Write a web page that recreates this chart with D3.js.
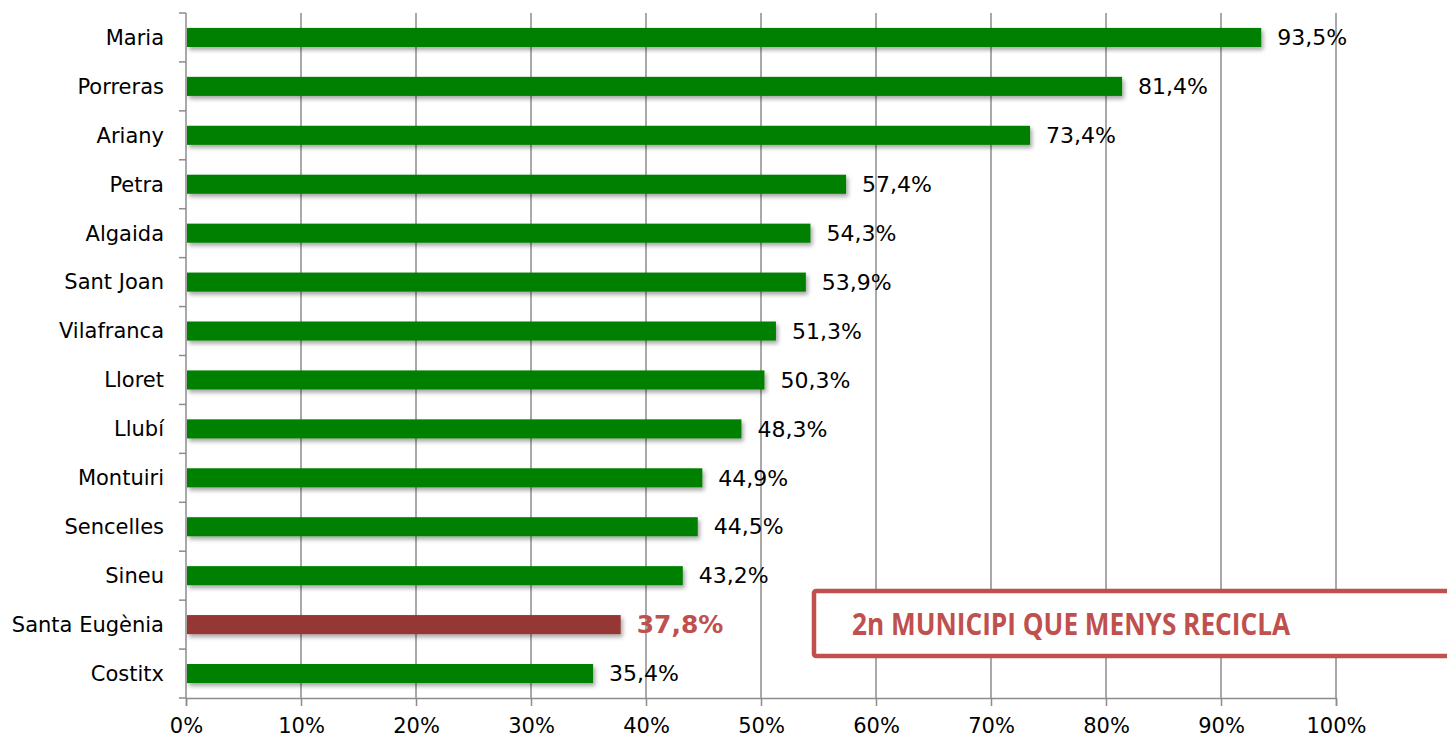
<!DOCTYPE html>
<html>
<head>
<meta charset="utf-8">
<script src="https://cdn.jsdelivr.net/npm/d3@7"></script>
<style>
  body { margin: 0; background: #fff; }
  text { font-family: "DejaVu Sans", sans-serif; }
</style>
</head>
<body>
<script>
const WIDTH = 1447
const HEIGHT = 741

const municipis = ['Maria', 'Porreras', 'Ariany', 'Petra', 'Algaida', 'Sant Joan', 'Vilafranca',
  'Lloret', 'Llubí', 'Montuiri', 'Sencelles', 'Sineu', 'Santa Eugènia', 'Costitx']
const reciclatge = [93.5, 81.4, 73.4, 57.4, 54.3, 53.9, 51.3, 50.3, 48.3, 44.9, 44.5, 43.2, 37.8, 35.4]
const destacat = 'Santa Eugènia'
const xTicks = [0, 10, 20, 30, 40, 50, 60, 70, 80, 90, 100]
const nota = '2n MUNICIPI QUE MENYS RECICLA'

const margin = { top: 13, right: 111, bottom: 43, left: 186 }
const innerW = WIDTH - margin.left - margin.right
const innerH = HEIGHT - margin.top - margin.bottom

const fmt = v => v.toFixed(1).replace('.', ',') + '%'

const svg = d3.select('body').append('svg')
  .attr('width', WIDTH)
  .attr('height', HEIGHT)

const defs = svg.append('defs')
defs.append('filter')
  .attr('id', 'shadow')
  .attr('x', '-5%').attr('y', '-50%')
  .attr('width', '110%').attr('height', '200%')
  .append('feDropShadow')
  .attr('dx', 2).attr('dy', 3)
  .attr('stdDeviation', 2)
  .attr('flood-color', '#000')
  .attr('flood-opacity', 0.35)

const g = svg.append('g')
  .attr('transform', `translate(${margin.left},${margin.top})`)

const x = d3.scaleLinear().domain([0, 100]).range([0, innerW])
const y = d3.scaleBand().domain(municipis).range([0, innerH]).paddingInner(0.61).paddingOuter(0.305)

// gridlines
g.append('g')
  .selectAll('line')
  .data(xTicks.slice(1))
  .enter()
  .append('line')
  .attr('x1', d => x(d)).attr('x2', d => x(d))
  .attr('y1', 0).attr('y2', innerH)
  .attr('stroke', '#8c8c8c')
  .attr('stroke-width', 1.5)

// x axis
const xAxis = g.append('g')
  .attr('transform', `translate(0,${innerH})`)
  .call(d3.axisBottom(x).tickValues(xTicks).tickFormat(d => d + '%').tickSize(8).tickPadding(12))
xAxis.select('.domain').attr('stroke', '#8c8c8c').attr('stroke-width', 1.5)
xAxis.selectAll('.tick line').attr('stroke', '#8c8c8c').attr('stroke-width', 1.5)
xAxis.selectAll('.tick text').attr('font-size', 21).attr('fill', '#000')
  .style('font-family', '"DejaVu Sans", sans-serif')

// y axis: line with ticks at category boundaries
const step = innerH / municipis.length
const yAxis = g.append('g')
yAxis.append('line')
  .attr('x1', 0).attr('x2', 0).attr('y1', 0).attr('y2', innerH)
  .attr('stroke', '#8c8c8c').attr('stroke-width', 1.5)
yAxis.selectAll('.bound')
  .data(d3.range(municipis.length + 1))
  .enter()
  .append('line')
  .attr('x1', -7).attr('x2', 0)
  .attr('y1', i => i * step).attr('y2', i => i * step)
  .attr('stroke', '#8c8c8c').attr('stroke-width', 1.5)
yAxis.selectAll('.cat')
  .data(municipis)
  .enter()
  .append('text')
  .attr('x', -22)
  .attr('y', d => y(d) + y.bandwidth() / 2)
  .attr('dy', '0.35em')
  .attr('text-anchor', 'end')
  .attr('font-size', 21)
  .attr('fill', '#000')
  .text(d => d)

const rows = municipis.map((m, i) => ({ name: m, value: reciclatge[i] }))

// bars
g.append('g')
  .selectAll('rect')
  .data(rows)
  .enter()
  .append('rect')
  .attr('x', 1)
  .attr('y', d => y(d.name))
  .attr('width', d => x(d.value) - 1)
  .attr('height', y.bandwidth())
  .attr('fill', d => d.name === destacat ? '#953735' : '#008000')
  .attr('filter', 'url(#shadow)')

// value labels
g.append('g')
  .selectAll('text')
  .data(rows)
  .enter()
  .append('text')
  .attr('x', d => x(d.value) + 16)
  .attr('y', d => y(d.name) + y.bandwidth() / 2)
  .attr('dy', '0.35em')
  .attr('font-size', d => d.name === destacat ? 25 : 22)
  .attr('font-weight', d => d.name === destacat ? 'bold' : 'normal')
  .attr('fill', d => d.name === destacat ? '#c0504d' : '#000')
  .text(d => fmt(d.value))

// callout box
svg.append('rect')
  .attr('x', 814)
  .attr('y', 591)
  .attr('width', 660)
  .attr('height', 65)
  .attr('rx', 2)
  .attr('fill', '#fff')
  .attr('stroke', '#c0504d')
  .attr('stroke-width', 4.5)
svg.append('text')
  .attr('x', 1071)
  .attr('y', 624)
  .attr('dy', '0.35em')
  .attr('text-anchor', 'middle')
  .attr('font-size', 31)
  .attr('font-weight', 'bold')
  .attr('fill', '#c0504d')
  .attr('textLength', 438)
  .attr('lengthAdjust', 'spacingAndGlyphs')
  .style('font-family', '"Open Sans", sans-serif')
  .text(nota)
</script>
</body>
</html>
